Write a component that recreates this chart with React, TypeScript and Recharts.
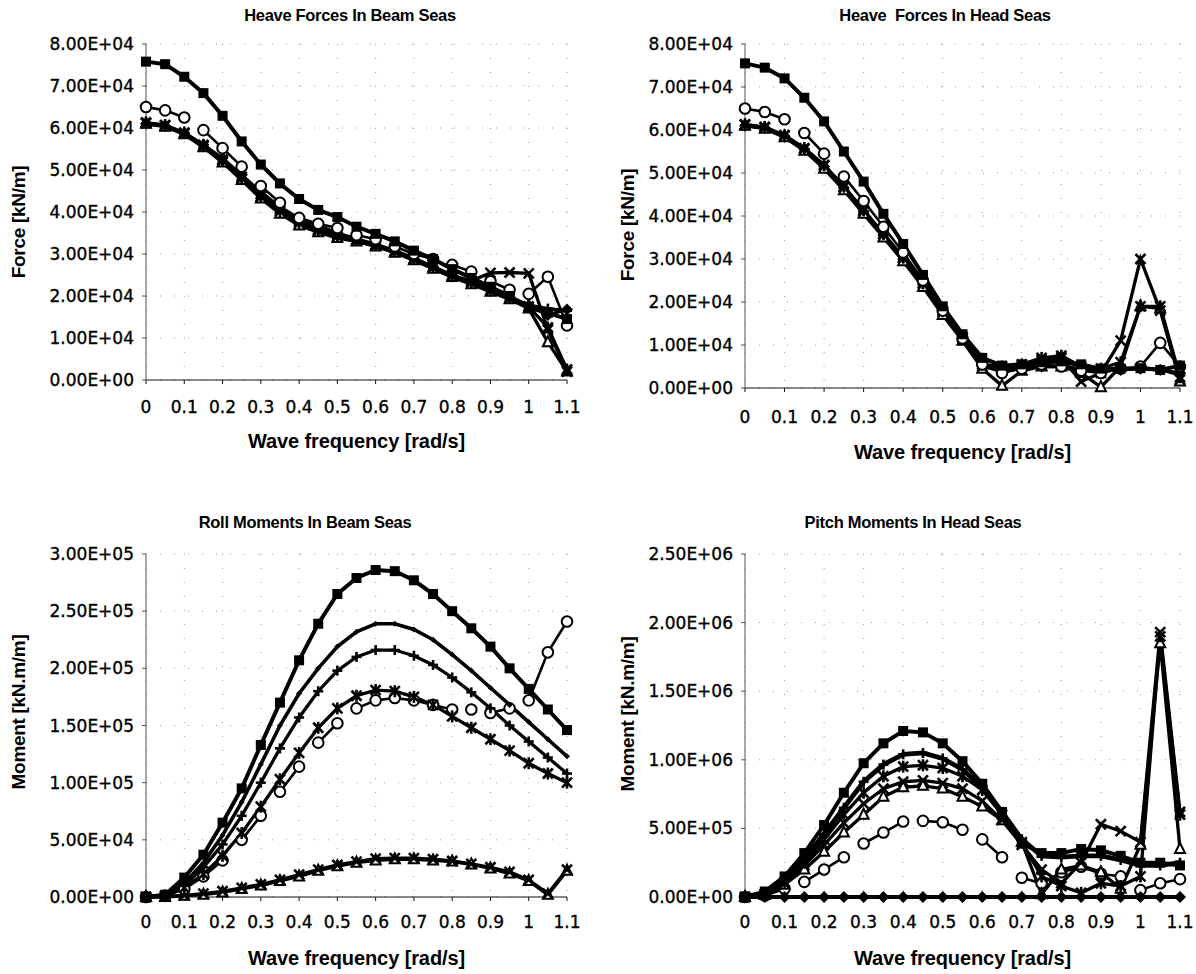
import React from "react";
import { LineChart, Line, XAxis, YAxis, CartesianGrid, Label } from "recharts";

// wave frequencies [rad/s]
const freq = [0, 0.05, 0.1, 0.15, 0.2, 0.25, 0.3, 0.35, 0.4, 0.45, 0.5, 0.55, 0.6, 0.65, 0.7, 0.75, 0.8, 0.85, 0.9, 0.95, 1.0, 1.05, 1.1];
const freqTicks = [0, 0.1, 0.2, 0.3, 0.4, 0.5, 0.6, 0.7, 0.8, 0.9, 1.0, 1.1];
const forceTicks = [0, 10000, 20000, 30000, 40000, 50000, 60000, 70000, 80000];
const rollTicks = [0, 50000, 100000, 150000, 200000, 250000, 300000];
const pitchTicks = [0, 500000, 1000000, 1500000, 2000000, 2500000];

// Heave forces in beam seas
const hbSquare = [75800, 75200, 72200, 68300, 62900, 56800, 51300, 46800, 43100, 40500, 38800, 36500, 34800, 33000, 30800, 28800, 26400, 24300, 22200, 20000, 17200, 16000, 14500];
const hbCircle = [65000, 64200, 62500, 59500, 55200, 50800, 46200, 42200, 38600, 37200, 36200, 34500, 33500, 31800, 30000, 28800, 27400, 25800, 23500, 21500, 20500, 24600, 13000];
const hbCircleBreaks = [0.125, 0.275, 0.375, 0.525, 0.625, 0.775, 0.875, 0.975];
const hbDiamond = [61000, 60500, 58800, 56000, 52800, 48800, 44800, 41200, 38500, 36800, 35000, 33600, 32300, 30800, 29000, 27000, 25000, 23400, 21600, 19800, 17800, 15500, 16800];
const hbTriangle = [61000, 60300, 58500, 55400, 51800, 47600, 43200, 39600, 36800, 35200, 33800, 33000, 31800, 30300, 28500, 26500, 24500, 22800, 21000, 19200, 17000, 9000, 2000];
const hbCross = [61200, 60600, 58700, 55700, 52200, 48000, 43700, 40200, 37400, 35600, 34200, 33200, 32000, 30600, 28800, 26800, 24800, 23600, 25500, 25600, 25400, 12000, 2000];
const hbStar = [61300, 60700, 58900, 56000, 52500, 48400, 44200, 40700, 37900, 35900, 34600, 33400, 32200, 30700, 28900, 26900, 24900, 23200, 21300, 19500, 17500, 12500, 2500];
const hbPlus = [61100, 60400, 58600, 55600, 52000, 47800, 43500, 40000, 37200, 35500, 34100, 33100, 31900, 30400, 28600, 26600, 24600, 22900, 21200, 19600, 17800, 17000, 16500];

// Heave forces in head seas
const hhSquare = [75500, 74500, 72000, 67500, 62000, 55000, 48000, 40500, 33500, 26300, 19000, 12500, 7000, 5200, 5500, 6000, 6200, 5500, 4500, 4500, 4600, 4200, 5200];
const hhCircle = [65000, 64200, 62500, 59300, 54500, 49200, 43500, 37500, 31500, 25000, 18000, 11500, 5500, 3500, 4500, 5500, 5000, 4000, 3500, 4500, 5000, 10500, 5000];
const hhCircleBreaks = [0.125, 0.225, 0.975];
const hhDiamond = [61000, 60500, 58500, 55500, 51500, 46500, 41000, 35500, 30000, 24000, 17500, 11500, 5200, 4500, 4500, 5000, 5000, 4500, 4000, 4200, 4500, 4200, 3500];
const hhTriangle = [61000, 60300, 58300, 55200, 51000, 46000, 40500, 35000, 29500, 23500, 17000, 11000, 4500, 500, 4000, 5000, 5000, 3500, 200, 5000, 19000, 18500, 1500];
const hhCross = [61200, 60600, 58700, 55600, 51700, 46700, 41200, 35700, 30200, 24200, 17700, 11700, 5000, 4000, 5000, 6500, 7000, 1500, 3500, 11000, 30000, 18000, 2000];
const hhStar = [61300, 60700, 58800, 55800, 51900, 46900, 41400, 35900, 30400, 24400, 17900, 11800, 5500, 5000, 5500, 7000, 7500, 5000, 4500, 6000, 19000, 19000, 2500];
const hhPlus = [61100, 60400, 58600, 55500, 51600, 46600, 41100, 35600, 30100, 24100, 17600, 11600, 5300, 4800, 5200, 6000, 6000, 5200, 4300, 4400, 4800, 4300, 3000];

// Roll moments in beam seas
const rbSquare = [0, 2000, 17000, 37000, 65000, 95000, 133000, 170000, 207000, 239000, 265000, 279000, 286000, 285000, 277000, 265000, 250000, 235000, 219000, 200000, 182000, 164000, 146000];
const rbDiamond = [0, 1500, 12000, 30000, 54000, 83000, 116000, 150000, 178000, 200000, 219000, 232000, 239000, 239000, 234000, 225000, 212000, 198000, 183000, 168000, 153000, 138000, 123000];
const rbPlus = [0, 1000, 10000, 26000, 46000, 71000, 100000, 130000, 157000, 180000, 198000, 210000, 216000, 216000, 211000, 203000, 192000, 179000, 165000, 150000, 136000, 122000, 108000];
const rbStar = [0, 1000, 8000, 20000, 36000, 56000, 79000, 103000, 126000, 148000, 165000, 176000, 181000, 180000, 175000, 168000, 158000, 148000, 138000, 128000, 117000, 108000, 100000];
const rbCircle = [0, 1000, 7000, 18000, 32000, 50000, 71000, 92000, 114000, 135000, 152000, 165000, 172000, 174000, 172000, 168000, 164000, 164000, 161000, 165000, 172000, 214000, 241000];
const rbCircleBreaks = [0.225, 0.325, 0.425, 0.525, 0.825, 0.875, 0.975];
const rbTriangle = [0, 0, 1000, 2000, 4000, 7000, 10000, 14000, 18000, 23000, 27000, 30000, 32000, 33000, 33000, 32000, 31000, 28500, 25000, 20500, 14000, 2000, 23000];
const rbCross = [0, 500, 1500, 3000, 5000, 8000, 11000, 15000, 19500, 24000, 28000, 31000, 33500, 34000, 34000, 33000, 31500, 29000, 26000, 22000, 15000, 3000, 24000];

// Pitch moments in head seas
const phSquare = [0, 40000, 150000, 320000, 525000, 760000, 975000, 1120000, 1210000, 1200000, 1120000, 990000, 825000, 620000, 390000, 320000, 320000, 350000, 340000, 300000, 250000, 250000, 230000];
const phPlus = [0, 30000, 130000, 280000, 460000, 650000, 840000, 965000, 1040000, 1050000, 1010000, 930000, 800000, 620000, 420000, 300000, 290000, 300000, 300000, 270000, 230000, 230000, 250000];
const phStar = [0, 20000, 110000, 250000, 420000, 600000, 760000, 880000, 950000, 960000, 940000, 880000, 780000, 600000, 400000, 150000, 80000, 30000, 100000, 80000, 150000, 1900000, 600000];
const phCross = [0, 20000, 100000, 230000, 380000, 540000, 680000, 790000, 840000, 850000, 830000, 790000, 700000, 560000, 380000, 200000, 100000, 250000, 530000, 480000, 400000, 1930000, 620000];
const phTriangle = [0, 15000, 90000, 200000, 330000, 470000, 600000, 730000, 800000, 810000, 790000, 730000, 660000, 560000, 400000, 20000, 200000, 230000, 180000, 60000, 380000, 1850000, 350000];
const phCircle = [0, 10000, 60000, 110000, 200000, 290000, 390000, 470000, 550000, 555000, 545000, 490000, 420000, 290000, 140000, 100000, 180000, 220000, 170000, 150000, 50000, 100000, 130000];
const phCircleBreaks = [0.125, 0.275, 0.425, 0.575, 0.675, 0.975];
const phDiamond = [0, 0, 0, 0, 0, 0, 0, 0, 0, 0, 0, 0, 0, 0, 0, 0, 0, 0, 0, 0, 0, 0, 0];

type Shape = "square" | "diamond" | "triangle" | "cross" | "star" | "circle" | "plus";
type Series = { key: string; values: number[]; shape: Shape; breaks?: number[]; width?: number; size?: number };

const fmtE = (v: number) => {
  const [m, e] = v.toExponential(2).split("e");
  const sign = e[0] === "-" ? "-" : "+";
  return `${m}E${sign}${e.replace(/[+-]/, "").padStart(2, "0")}`;
};
const fmtF = (v: number) => String(parseFloat(v.toFixed(2)));

const makeDot = (shape: Shape, s: number) => (p: any) => {
  const { cx, cy, index } = p;
  const k = `${shape}-${index}`;
  if (cx == null || cy == null || Number.isNaN(cy)) return <g key={k} />;
  switch (shape) {
    case "square":
      return <rect key={k} x={cx - s} y={cy - s} width={2 * s} height={2 * s} fill="#000" />;
    case "diamond":
      return <polygon key={k} points={`${cx},${cy - s - 1} ${cx + s + 1},${cy} ${cx},${cy + s + 1} ${cx - s - 1},${cy}`} fill="#000" />;
    case "triangle":
      return <polygon key={k} points={`${cx},${cy - s - 1} ${cx + s},${cy + s - 1} ${cx - s},${cy + s - 1}`} fill="#fff" stroke="#000" strokeWidth={2} />;
    case "cross":
      return (
        <g key={k} stroke="#000" strokeWidth={2.6}>
          <line x1={cx - s} y1={cy - s} x2={cx + s} y2={cy + s} />
          <line x1={cx - s} y1={cy + s} x2={cx + s} y2={cy - s} />
        </g>
      );
    case "star":
      return (
        <g key={k} stroke="#000" strokeWidth={2.6}>
          <line x1={cx - s} y1={cy - s} x2={cx + s} y2={cy + s} />
          <line x1={cx - s} y1={cy + s} x2={cx + s} y2={cy - s} />
          <line x1={cx} y1={cy - s - 1} x2={cx} y2={cy + s + 1} />
        </g>
      );
    case "plus":
      return (
        <g key={k} stroke="#000" strokeWidth={2.6}>
          <line x1={cx - s} y1={cy} x2={cx + s} y2={cy} />
          <line x1={cx} y1={cy - s} x2={cx} y2={cy + s} />
        </g>
      );
    default:
      return <circle key={k} cx={cx} cy={cy} r={s + 0.3} fill="#fff" stroke="#000" strokeWidth={2} />;
  }
};

const toPoints = (s: Series) => {
  const pts: { x: number; y: number | null }[] = freq.map((f, i) => ({ x: f, y: s.values[i] }));
  (s.breaks || []).forEach((b) => pts.push({ x: b, y: null }));
  return pts.sort((a, b) => a.x - b.x);
};

type PanelProps = {
  left: number; top: number; width: number; height: number;
  axisX: number; plotRight: number; plotTop: number; plotBottom: number;
  yTicks: number[]; yTitle: string; title: string; titleX: number; titleY: number;
  tickMargin: number; xTitleOffset: number; yTitleX: number; yTitleY: number;
  series: Series[];
};

const axisTitleStyle: React.CSSProperties = {
  fontFamily: "Liberation Sans", fontWeight: 700, fontSize: 19, letterSpacing: -0.3, color: "#000",
  whiteSpace: "pre", textAlign: "center", position: "absolute",
};

function Panel(p: PanelProps) {
  const tickFont = { fill: "#000", fontSize: 17, fontFamily: "DejaVu Sans", stroke: "#000", strokeWidth: 0.35 };
  const yMax = p.yTicks[p.yTicks.length - 1];
  return (
    <>
      <div style={{
        position: "absolute", left: p.titleX - 250, top: p.titleY - 10, width: 500,
        textAlign: "center", fontFamily: "Liberation Sans", fontWeight: 700, fontSize: 16.5, letterSpacing: -0.3,
        color: "#000", whiteSpace: "pre",
      }}>{p.title}</div>
      <div style={{
        ...axisTitleStyle, left: p.yTitleX - 150, top: p.yTitleY - 11, width: 300, lineHeight: "22px",
        transform: "rotate(-90deg)",
      }}>{p.yTitle}</div>
      <div style={{ position: "absolute", left: p.left, top: p.top }}>
        <LineChart width={p.width} height={p.height}
          margin={{ top: p.plotTop - p.top, right: p.left + p.width - p.plotRight, left: 0, bottom: 0 }}>
          <CartesianGrid stroke="#999" strokeDasharray="1 13" />
          <XAxis dataKey="x" type="number" domain={[0, 1.1]} ticks={freqTicks} tickFormatter={fmtF}
            height={p.top + p.height - p.plotBottom} tick={tickFont} tickSize={4} tickMargin={p.tickMargin}
            stroke="#111" allowDuplicatedCategory={false}>
            <Label value="Wave frequency [rad/s]" position="insideBottom" offset={p.xTitleOffset}
              style={{ fill: "#000", fontSize: 20, fontWeight: 700, fontFamily: "Liberation Sans", letterSpacing: -0.1 }} />
          </XAxis>
          <YAxis type="number" domain={[0, yMax]} ticks={p.yTicks} tickFormatter={fmtE}
            width={p.axisX - p.left} tick={tickFont} tickSize={4} tickMargin={8} stroke="#555" />
          {p.series.map((s) => (
            <Line key={s.key} data={toPoints(s)} dataKey="y" type="linear" stroke="#000"
              strokeWidth={s.width ?? 3.3} dot={makeDot(s.shape, s.size ?? 5)} activeDot={false}
              isAnimationActive={false} connectNulls={false} />
          ))}
        </LineChart>
      </div>
    </>
  );
}

export default function App() {
  return (
    <div style={{ position: "absolute", left: 0, top: 0, width: 1196, height: 974, background: "#fff", overflow: "hidden" }}>
      <Panel left={0} top={0} width={600} height={470} axisX={146} plotRight={567} plotTop={44} plotBottom={380}
        yTicks={forceTicks} yTitle="Force [kN/m]" title="Heave Forces In Beam Seas" titleX={350} titleY={16}
        tickMargin={17} xTitleOffset={22} yTitleX={19} yTitleY={222}
        series={[
          { key: "d", values: hbDiamond, shape: "diamond" },
          { key: "t", values: hbTriangle, shape: "triangle" },
          { key: "x", values: hbCross, shape: "cross" },
          { key: "a", values: hbStar, shape: "star" },
          { key: "p", values: hbPlus, shape: "plus" },
          { key: "c", values: hbCircle, shape: "circle", breaks: hbCircleBreaks, width: 2.6 },
          { key: "s", values: hbSquare, shape: "square", width: 4 },
        ]} />
      <Panel left={600} top={0} width={596} height={470} axisX={745} plotRight={1180} plotTop={44} plotBottom={388}
        yTicks={forceTicks} yTitle="Force [kN/m]" title="Heave  Forces In Head Seas" titleX={945} titleY={16}
        tickMargin={19} xTitleOffset={11} yTitleX={628} yTitleY={225}
        series={[
          { key: "d", values: hhDiamond, shape: "diamond" },
          { key: "t", values: hhTriangle, shape: "triangle" },
          { key: "x", values: hhCross, shape: "cross" },
          { key: "a", values: hhStar, shape: "star" },
          { key: "p", values: hhPlus, shape: "plus" },
          { key: "c", values: hhCircle, shape: "circle", breaks: hhCircleBreaks, width: 2.6 },
          { key: "s", values: hhSquare, shape: "square", width: 4 },
        ]} />
      <Panel left={0} top={480} width={600} height={494} axisX={146} plotRight={567} plotTop={554} plotBottom={897}
        yTicks={rollTicks} yTitle="Moment [kN.m/m]" title="Roll Moments In Beam Seas" titleX={305} titleY={523}
        tickMargin={15} xTitleOffset={9} yTitleX={19} yTitleY={712}
        series={[
          { key: "t", values: rbTriangle, shape: "triangle" },
          { key: "x", values: rbCross, shape: "cross" },
          { key: "c", values: rbCircle, shape: "circle", breaks: rbCircleBreaks, width: 2.6 },
          { key: "a", values: rbStar, shape: "star" },
          { key: "p", values: rbPlus, shape: "plus" },
          { key: "d", values: rbDiamond, shape: "diamond", width: 3.6, size: 2 },
          { key: "s", values: rbSquare, shape: "square", width: 4 },
        ]} />
      <Panel left={600} top={480} width={596} height={494} axisX={745} plotRight={1180} plotTop={554} plotBottom={897}
        yTicks={pitchTicks} yTitle="Moment [kN.m/m]" title="Pitch Moments In Head Seas" titleX={913} titleY={523}
        tickMargin={15} xTitleOffset={9} yTitleX={628} yTitleY={714}
        series={[
          { key: "c", values: phCircle, shape: "circle", breaks: phCircleBreaks, width: 2.6 },
          { key: "t", values: phTriangle, shape: "triangle" },
          { key: "x", values: phCross, shape: "cross" },
          { key: "a", values: phStar, shape: "star" },
          { key: "p", values: phPlus, shape: "plus", width: 4.8 },
          { key: "s", values: phSquare, shape: "square", width: 4 },
          { key: "d", values: phDiamond, shape: "diamond", width: 4 },
        ]} />
    </div>
  );
}
